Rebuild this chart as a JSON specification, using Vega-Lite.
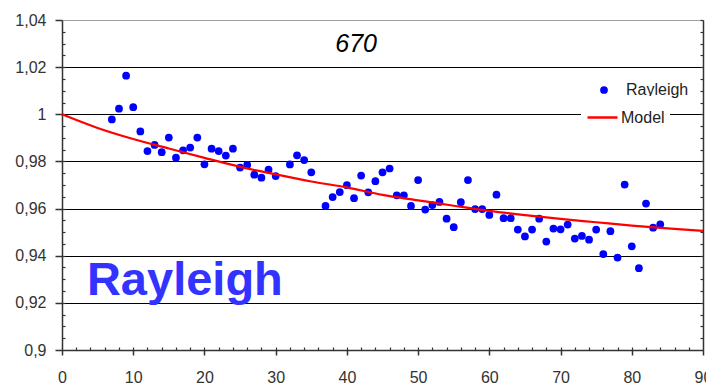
{
  "$schema": "https://vega.github.io/schema/vega-lite/v6.json",
  "width": 641,
  "height": 330,
  "autosize": "none",
  "padding": {"left": 62, "top": 20, "right": 3, "bottom": 33},
  "background": "#ffffff",
  "config": {
    "view": {"stroke": null},
    "font": "Liberation Sans",
    "axis": {"labelFont": "Liberation Sans", "labelColor": "#333333", "labelFontSize": 16, "domainColor": "#333333", "tickColor": "#333333", "title": null},
    "legend": {"title": null, "orient": "none", "padding": 5, "fillColor": "#ffffff", "labelFont": "Liberation Sans", "labelFontSize": 16, "labelColor": "#222222"}
  },
  "datasets": {
    "obs": [
      {"angle": 7, "ratio": 0.9978}, {"angle": 8, "ratio": 1.0024}, {"angle": 9, "ratio": 1.0164}, {"angle": 10, "ratio": 1.003},
      {"angle": 11, "ratio": 0.9927}, {"angle": 12, "ratio": 0.9844}, {"angle": 13, "ratio": 0.987}, {"angle": 14, "ratio": 0.9839},
      {"angle": 15, "ratio": 0.9901}, {"angle": 16, "ratio": 0.9816}, {"angle": 17, "ratio": 0.9847}, {"angle": 18, "ratio": 0.9859},
      {"angle": 19, "ratio": 0.9901}, {"angle": 20, "ratio": 0.9788}, {"angle": 21, "ratio": 0.9854}, {"angle": 22, "ratio": 0.9844},
      {"angle": 23, "ratio": 0.9825}, {"angle": 24, "ratio": 0.9854}, {"angle": 25, "ratio": 0.9774}, {"angle": 26, "ratio": 0.9785},
      {"angle": 27, "ratio": 0.9744}, {"angle": 28, "ratio": 0.9731}, {"angle": 29, "ratio": 0.9765}, {"angle": 30, "ratio": 0.9738},
      {"angle": 32, "ratio": 0.9787}, {"angle": 33, "ratio": 0.9826}, {"angle": 34, "ratio": 0.9806}, {"angle": 35, "ratio": 0.9754},
      {"angle": 37, "ratio": 0.9611}, {"angle": 38, "ratio": 0.9649}, {"angle": 39, "ratio": 0.967}, {"angle": 40, "ratio": 0.9699},
      {"angle": 41, "ratio": 0.9644}, {"angle": 42, "ratio": 0.974}, {"angle": 43, "ratio": 0.9669}, {"angle": 44, "ratio": 0.9716},
      {"angle": 45, "ratio": 0.9754}, {"angle": 46, "ratio": 0.977}, {"angle": 47, "ratio": 0.9656}, {"angle": 48, "ratio": 0.9656},
      {"angle": 49, "ratio": 0.9611}, {"angle": 50, "ratio": 0.9721}, {"angle": 51, "ratio": 0.9596}, {"angle": 52, "ratio": 0.9615},
      {"angle": 53, "ratio": 0.9628}, {"angle": 54, "ratio": 0.9557}, {"angle": 55, "ratio": 0.9521}, {"angle": 56, "ratio": 0.9627},
      {"angle": 57, "ratio": 0.9721}, {"angle": 58, "ratio": 0.9598}, {"angle": 59, "ratio": 0.9598}, {"angle": 60, "ratio": 0.9573},
      {"angle": 61, "ratio": 0.9659}, {"angle": 62, "ratio": 0.9559}, {"angle": 63, "ratio": 0.9559}, {"angle": 64, "ratio": 0.9511},
      {"angle": 65, "ratio": 0.9482}, {"angle": 66, "ratio": 0.9511}, {"angle": 67, "ratio": 0.9557}, {"angle": 68, "ratio": 0.946},
      {"angle": 69, "ratio": 0.9515}, {"angle": 70, "ratio": 0.9512}, {"angle": 71, "ratio": 0.9532}, {"angle": 72, "ratio": 0.9473},
      {"angle": 73, "ratio": 0.9484}, {"angle": 74, "ratio": 0.9468}, {"angle": 75, "ratio": 0.9511}, {"angle": 76, "ratio": 0.9407},
      {"angle": 77, "ratio": 0.9504}, {"angle": 78, "ratio": 0.9392}, {"angle": 79, "ratio": 0.9702}, {"angle": 80, "ratio": 0.944},
      {"angle": 81, "ratio": 0.9347}, {"angle": 82, "ratio": 0.9621}, {"angle": 83, "ratio": 0.9519}, {"angle": 84, "ratio": 0.9533}
    ],
    "model": [
      {"angle": 0, "ratio": 1.0}, {"angle": 5, "ratio": 0.9942}, {"angle": 10, "ratio": 0.9895}, {"angle": 15, "ratio": 0.9855},
      {"angle": 20, "ratio": 0.9815}, {"angle": 25, "ratio": 0.9777}, {"angle": 30, "ratio": 0.9745}, {"angle": 35, "ratio": 0.9715},
      {"angle": 40, "ratio": 0.969}, {"angle": 45, "ratio": 0.9658}, {"angle": 50, "ratio": 0.9635}, {"angle": 55, "ratio": 0.9612},
      {"angle": 60, "ratio": 0.959}, {"angle": 65, "ratio": 0.9572}, {"angle": 70, "ratio": 0.9556}, {"angle": 75, "ratio": 0.9542},
      {"angle": 80, "ratio": 0.9528}, {"angle": 85, "ratio": 0.9516}, {"angle": 90, "ratio": 0.9505}
    ],
    "note": [{"label": "Rayleigh"}],
    "heading": [{"label": "670"}]
  },
  "resolve": {"axis": {"x": "independent", "y": "independent"}},
  "layer": [
    {
      "data": {"name": "obs"},
      "mark": {"type": "circle", "size": 60, "opacity": 1},
      "encoding": {
        "x": {"field": "angle", "type": "quantitative", "scale": {"domain": [0, 90], "nice": false, "zero": false},
              "axis": {"orient": "bottom", "values": [0, 10, 20, 30, 40, 50, 60, 70, 80, 90], "grid": false, "tickSize": 5, "tickWidth": 1.5, "domainWidth": 1.5, "labelPadding": 14, "labelFlush": false, "labelOverlap": false}},
        "y": {"field": "ratio", "type": "quantitative", "scale": {"domain": [0.9, 1.04], "nice": false, "zero": false},
              "axis": {"orient": "left", "values": [0.9, 0.92, 0.94, 0.96, 0.98, 1.0, 1.02, 1.04], "grid": true, "gridWidth": 1.2,
                       "gridColor": {"condition": {"test": "datum.value > 1.035", "value": "#a0a0a0"}, "value": "#000000"},
                       "tickSize": 7, "tickWidth": 1.5, "domainWidth": 1.5, "labelPadding": 9, "labelFlush": false, "labelOverlap": false,
                       "labelExpr": "replace(format(datum.value, '~g'), '.', ',')"}},
        "color": {"datum": "Rayleigh", "type": "nominal",
                  "scale": {"domain": ["Rayleigh"], "range": ["#0000ff"]},
                  "legend": {"legendX": 529, "legendY": 57, "symbolSize": 60, "symbolType": "circle", "labelOffset": 14}}
      }
    },
    {
      "data": {"name": "model"},
      "mark": {"type": "line", "strokeWidth": 2.2, "interpolate": "monotone"},
      "encoding": {
        "x": {"field": "angle", "type": "quantitative",
              "axis": {"orient": "bottom", "values": [2, 4, 6, 8, 10, 12, 14, 16, 18, 20, 22, 24, 26, 28, 30, 32, 34, 36, 38, 40, 42, 44, 46, 48, 50, 52, 54, 56, 58, 60, 62, 64, 66, 68, 70, 72, 74, 76, 78, 80, 82, 84, 86, 88], "labels": false, "domain": false, "grid": false, "tickSize": -3, "tickWidth": 1.2}},
        "y": {"field": "ratio", "type": "quantitative",
              "axis": {"orient": "left", "values": [0.905, 0.91, 0.915, 0.92, 0.925, 0.93, 0.935, 0.94, 0.945, 0.95, 0.955, 0.96, 0.965, 0.97, 0.975, 0.98, 0.985, 0.99, 0.995, 1.0, 1.005, 1.01, 1.015, 1.02, 1.025, 1.03, 1.035], "labels": false, "domain": false, "grid": false, "tickSize": -3, "tickWidth": 1.2}},
        "stroke": {"datum": "Model", "type": "nominal",
                   "scale": {"domain": ["Model"], "range": ["#ff0000"]},
                   "legend": {"legendX": 519, "legendY": 76, "symbolSize": 900, "symbolType": "stroke", "symbolStrokeWidth": 2.5, "labelOffset": 2}}
      }
    },
    {
      "data": {"name": "note"},
      "mark": {"type": "text", "font": "Liberation Sans", "fontWeight": "bold", "fontSize": 47, "color": "#3333ff", "align": "left", "baseline": "alphabetic"},
      "encoding": {
        "text": {"field": "label"},
        "x": {"datum": 3.5, "type": "quantitative", "axis": null},
        "y": {"datum": 0.9234, "type": "quantitative",
              "axis": {"orient": "right", "values": [0.905, 0.91, 0.915, 0.92, 0.925, 0.93, 0.935, 0.94, 0.945, 0.95, 0.955, 0.96, 0.965, 0.97, 0.975, 0.98, 0.985, 0.99, 0.995, 1.0, 1.005, 1.01, 1.015, 1.02, 1.025, 1.03, 1.035, 1.04], "labels": false, "grid": false, "tickSize": -3, "tickWidth": 1.2, "domainWidth": 1.5}}
      }
    },
    {
      "data": {"name": "heading"},
      "mark": {"type": "text", "font": "Liberation Sans", "fontStyle": "italic", "fontSize": 25, "color": "#000000", "align": "center", "baseline": "alphabetic"},
      "encoding": {
        "text": {"field": "label"},
        "x": {"datum": 41.3, "type": "quantitative", "axis": null},
        "y": {"datum": 1.0263, "type": "quantitative", "axis": null}
      }
    }
  ]
}
